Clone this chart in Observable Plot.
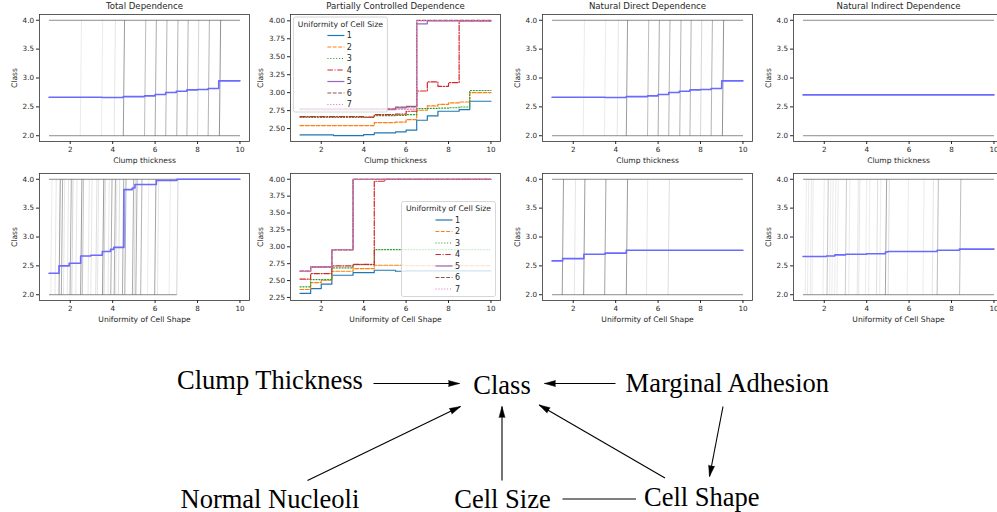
<!DOCTYPE html>
<html><head><meta charset="utf-8">
<script src="https://cdn.jsdelivr.net/npm/d3@7"></script>
<script src="https://cdn.jsdelivr.net/npm/@observablehq/plot@0.6"></script>
<style>
body{margin:0;background:#fff;}
#fig{position:relative;width:997px;height:512px;overflow:hidden;background:#fff;}
#fig svg{position:absolute;overflow:visible;}
</style></head><body><div id="fig"></div>
<script>
// ================= DATA =================
const panelTitles = ["Total Dependence", "Partially Controlled Dependence", "Natural Direct Dependence", "Natural Indirect Dependence"];
const featureLabels = ["Clump thickness", "Uniformity of Cell Shape"];
const yLabel = "Class";
const legendTitle = "Uniformity of Cell Size";
const sizeLevels = ["1", "2", "3", "4", "5", "6", "7"];
const xTicks = [2, 4, 6, 8, 10];
const classTicks = [2.0, 2.5, 3.0, 3.5, 4.0];
const pcdTicksTop = [2.50, 2.75, 3.00, 3.25, 3.50, 3.75, 4.00];
const pcdTicksBottom = [2.25, 2.50, 2.75, 3.00, 3.25, 3.50, 3.75, 4.00];
const iceLevels = [2, 4];

// average (blue) step curves, Clump thickness
const clumpSteps = [1, 3.5, 4.5, 5.5, 6.0, 6.5, 7.0, 7.5, 8.0, 8.5, 9.0, 10];
const totalClump = [2.667, 2.661, 2.678, 2.690, 2.713, 2.748, 2.771, 2.794, 2.800, 2.817, 2.951, 2.951];
const directClump = [2.667, 2.661, 2.678, 2.690, 2.713, 2.748, 2.771, 2.794, 2.800, 2.817, 2.951, 2.951];
const indirectClumpSteps = [1, 10];
const indirectClump = [2.707, 2.707];

// average (blue) step curves, Uniformity of Cell Shape
const shapeStepsTotal = [1, 1.47, 1.95, 2.49, 2.97, 3.51, 3.9, 4.05, 4.53, 4.92, 5.05, 6.06, 7.03, 10];
const totalShape = [2.371, 2.500, 2.545, 2.670, 2.683, 2.750, 2.785, 2.820, 3.820, 3.850, 3.910, 3.980, 4.000, 4.000];
const shapeStepsDirect = [1, 1.5, 2.5, 3.5, 4.5, 10];
const directShape = [2.586, 2.626, 2.700, 2.720, 2.770, 2.770];
const shapeStepsIndirect = [1, 2.1, 2.5, 3.0, 4.0, 4.88, 5.0, 7.32, 8.37, 10];
const indirectShape = [2.661, 2.670, 2.690, 2.700, 2.710, 2.740, 2.750, 2.770, 2.790, 2.790];

// individual ICE curve jump positions and their darkness
const iceClumpX = [2.47, 3.47, 4.07, 4.50, 5.50, 6.00, 6.50, 7.02, 7.50, 8.00, 8.50, 9.03];
const iceClumpAlpha = [0.12, 0.12, 0.15, 0.6, 0.4, 0.5, 0.45, 0.45, 0.45, 0.25, 0.45, 0.65];
const iceShapeTotalX = [1.08, 1.28, 1.47, 1.58, 1.68, 1.86, 1.99, 2.07, 2.26, 2.49, 2.57, 2.84, 2.97, 3.20, 3.28, 3.52, 3.59, 3.78, 3.91, 4.07, 4.14, 4.27, 4.46, 4.57, 4.93, 5.01, 5.09, 5.32, 5.64, 5.98, 6.11, 6.66, 7.02];
const iceShapeTotalAlpha = [0.12, 0.15, 0.6, 0.5, 0.15, 0.15, 0.5, 0.25, 0.15, 0.6, 0.35, 0.15, 0.15, 0.2, 0.15, 0.6, 0.25, 0.15, 0.5, 0.5, 0.15, 0.2, 0.5, 0.5, 0.5, 0.2, 0.5, 0.45, 0.12, 0.55, 0.15, 0.12, 0.25];
const iceShapeDirectX = [1.48, 2.05, 2.49, 3.48, 4.50, 5.45, 6.47];
const iceShapeDirectAlpha = [0.6, 0.15, 0.6, 0.55, 0.6, 0.15, 0.2];
const iceShapeIndirectX = [1.10, 1.21, 1.34, 1.42, 1.94, 2.13, 2.25, 2.36, 2.49, 2.60, 2.99, 3.15, 3.55, 3.62, 3.94, 4.09, 4.46, 4.61, 4.88, 5.01, 5.91, 6.65, 7.09, 7.32, 8.38];
const iceShapeIndirectAlpha = [0.12, 0.12, 0.12, 0.12, 0.12, 0.35, 0.12, 0.12, 0.12, 0.12, 0.3, 0.12, 0.15, 0.15, 0.12, 0.12, 0.2, 0.12, 0.55, 0.2, 0.12, 0.12, 0.15, 0.4, 0.4];

// partially controlled dependence, by Uniformity of Cell Size (levels 1..7)
const pcdClumpSteps = [1, 2.58, 4.0, 4.5, 5.5, 6.0, 6.5, 7.0, 7.5, 8.0, 8.5, 9.0, 10];
const pcdClump1 = [2.412, 2.403, 2.417, 2.440, 2.454, 2.477, 2.616, 2.676, 2.741, 2.741, 2.764, 2.880, 2.880];
const pcdClump2 = [2.542, 2.542, 2.542, 2.583, 2.590, 2.625, 2.755, 2.815, 2.838, 2.857, 2.870, 3.000, 3.000];
const pcdClump3 = [2.657, 2.657, 2.657, 2.680, 2.683, 2.694, 2.778, 2.782, 2.785, 2.790, 2.800, 3.030, 3.030];
const pcdClump4 = [2.667, 2.667, 2.660, 2.694, 2.700, 2.741, 3.023, 3.150, 3.088, 3.140, 4.000, 4.000, 4.000];
const pcdClump5 = [2.764, 2.764, 2.764, 2.764, 2.787, 2.810, 3.958, 4.000, 4.000, 4.000, 4.000, 4.000, 4.000];
const pcdClump6 = [2.773, 2.773, 2.773, 2.773, 2.800, 2.800, 4.005, 4.005, 4.005, 4.005, 4.005, 4.005, 4.005];
const pcdClump7 = [2.770, 2.770, 2.770, 2.770, 2.770, 2.770, 4.000, 4.000, 4.000, 4.000, 4.000, 4.000, 4.000];

const pcdShapeSteps = [1, 1.5, 2.0, 2.5, 3.5, 4.5, 5.0, 5.5, 6.0, 10];
const pcdShape1 = [2.309, 2.382, 2.446, 2.579, 2.618, 2.653, 2.653, 2.638, 2.643, 2.643];
const pcdShape2 = [2.368, 2.471, 2.505, 2.638, 2.677, 2.727, 2.727, 2.727, 2.722, 2.722];
const pcdShape3 = [2.407, 2.515, 2.515, 2.687, 2.736, 2.958, 2.958, 2.958, 2.958, 2.958];
const pcdShape4 = [2.520, 2.604, 2.604, 2.717, 2.741, 3.970, 4.000, 4.000, 4.000, 4.000];
const pcdShape5 = [2.638, 2.702, 2.702, 2.958, 4.000, 4.000, 4.000, 4.000, 4.000, 4.000];
const pcdShape6 = [2.640, 2.700, 2.700, 2.955, 4.000, 4.000, 4.000, 4.000, 4.000, 4.000];
const pcdShape7 = [2.636, 2.698, 2.698, 2.960, 4.000, 4.000, 4.000, 4.000, 4.000, 4.000];

// causal diagram
const nodeNames = ["Clump Thickness", "Class", "Marginal Adhesion", "Normal Nucleoli", "Cell Size", "Cell Shape"];
const nodeX = [269.4, 501.5, 726.8, 269.4, 502, 701.3];
const nodeY = [388, 393, 391, 507, 507, 505];
const edgeX1 = [373, 615, 307, 501.5, 664.5, 722.5, 562];
const edgeY1 = [383, 383, 480, 480, 477.5, 406, 498.5];
const edgeX2 = [459, 544, 460, 501.5, 538.6, 709, 635.5];
const edgeY2 = [383, 383, 406, 406, 404.4, 476, 498.5];
const edgeDirected = [true, true, true, true, true, true, false];

// ================= STYLE =================
const tab10 = ["#1f77b4", "#ff7f0e", "#2ca02c", "#d62728", "#9467bd", "#8c564b", "#e377c2"];
const dashes = [null, "3.8,1.6", "1.1,1.8", "5.5,1.6,1.1,1.6", null, "3.8,1.6", "1.1,1.8"];
const FONT = "DejaVu Sans";

const fig = document.getElementById("fig");
const colLeft = [0, 251.4, 502.8, 754.2];
const rowTop = [0, 159.3];

function panel({title, xlabel, yDomain, yTicks, yFmt, ylabelDx, marks}) {
  return Plot.plot({
    width: 252, height: 165,
    marginLeft: 39, marginRight: 3, marginTop: 14, marginBottom: 24,
    x: {domain: [0.55, 10.45]},
    y: {domain: yDomain},
    style: {fontFamily: FONT, fontSize: "7.2px", color: "#262626", background: "transparent", overflow: "visible"},
    marks: [
      ...marks,
      Plot.frame({stroke: "#333", strokeWidth: 0.8}),
      Plot.axisX({ticks: xTicks, tickFormat: d3.format("d"), tickSize: 3, tickPadding: 2.5, label: null}),
      Plot.axisY({ticks: yTicks, tickFormat: d3.format(yFmt), tickSize: 3, tickPadding: 2.5, label: null}),
      title ? Plot.text([title], {frameAnchor: "top", dy: -8, text: d => d, fontSize: 8.6, lineAnchor: "middle"}) : null,
      Plot.text([xlabel], {frameAnchor: "bottom", dy: 19, text: d => d, fontSize: 7.6, lineAnchor: "middle"}),
      Plot.text([yLabel], {frameAnchor: "left", dx: ylabelDx, rotate: -90, text: d => d, fontSize: 7.6, lineAnchor: "middle", textAnchor: "middle"})
    ]
  });
}

function iceMarks(stepsX, avgY, jumpX, jumpA, lowEnd) {
  const avg = stepsX.map((x, i) => ({x, y: avgY[i]}));
  const jumps = jumpX.map((x, i) => ({x, a: jumpA[i], lo: iceLevels[0], hi: iceLevels[1]}));
  const levels = iceLevels.map((y, i) => ({y, x1: 1, x2: i === 0 ? lowEnd : 10}));
  return [
    Plot.link(levels, {x1: "x1", x2: "x2", y1: "y", y2: "y", stroke: "#8c8c8c", strokeWidth: 1}),
    Plot.link(jumps, {x1: "x", x2: d => d.x + 0.06, y1: "lo", y2: "hi", stroke: "#444", strokeOpacity: "a", strokeWidth: 0.9}),
    Plot.line(avg, {x: "x", y: "y", curve: "step-after", stroke: "#6a6aff", strokeWidth: 1.6})
  ];
}

function pcdMarks(stepsX, series) {
  return series.map((vals, i) => Plot.line(stepsX.map((x, j) => ({x, y: vals[j]})), {
    x: "x", y: "y", curve: "step-after", stroke: tab10[i], strokeWidth: 1.2, strokeDasharray: dashes[i]
  }));
}

function addLegend(svg, bx, by) {
  const g = d3.select(svg).append("g").attr("font-family", FONT).attr("font-size", 7.7).attr("fill", "#262626");
  g.append("rect").attr("x", bx).attr("y", by).attr("width", 94).attr("height", 95).attr("rx", 2)
    .attr("fill", "white").attr("fill-opacity", 0.8).attr("stroke", "#cccccc").attr("stroke-width", 0.8);
  g.append("text").attr("x", bx + 47).attr("y", by + 7).attr("text-anchor", "middle").attr("dy", "0.35em").text(legendTitle);
  sizeLevels.forEach((lv, i) => {
    const y = by + 18.5 + i * 11.5;
    g.append("line").attr("x1", bx + 34).attr("x2", bx + 51).attr("y1", y).attr("y2", y)
      .attr("stroke", tab10[i]).attr("stroke-width", 1.2).attr("stroke-dasharray", dashes[i]);
    g.append("text").attr("x", bx + 56).attr("y", y).attr("dy", "0.35em").attr("font-size", 8).text(lv);
  });
}

function place(svg, c, r) {
  svg.style.left = colLeft[c] + "px";
  svg.style.top = rowTop[r] + "px";
  fig.appendChild(svg);
}

// ---- Top row: Clump thickness ----
place(panel({title: panelTitles[0], xlabel: featureLabels[0], yDomain: [1.9, 4.1], yTicks: classTicks, yFmt: ".1f", ylabelDx: -25,
  marks: iceMarks(clumpSteps, totalClump, iceClumpX, iceClumpAlpha, 10)}), 0, 0);

const p2 = panel({title: panelTitles[1], xlabel: featureLabels[0], yDomain: [2.32, 4.088], yTicks: pcdTicksTop, yFmt: ".2f", ylabelDx: -30,
  marks: pcdMarks(pcdClumpSteps, [pcdClump1, pcdClump2, pcdClump3, pcdClump4, pcdClump5, pcdClump6, pcdClump7])});
addLegend(p2, 42.4, 17);
place(p2, 1, 0);

place(panel({title: panelTitles[2], xlabel: featureLabels[0], yDomain: [1.9, 4.1], yTicks: classTicks, yFmt: ".1f", ylabelDx: -25,
  marks: iceMarks(clumpSteps, directClump, iceClumpX, iceClumpAlpha, 10)}), 2, 0);

place(panel({title: panelTitles[3], xlabel: featureLabels[0], yDomain: [1.9, 4.1], yTicks: classTicks, yFmt: ".1f", ylabelDx: -25,
  marks: iceMarks(indirectClumpSteps, indirectClump, [], [], 10)}), 3, 0);

// ---- Bottom row: Uniformity of Cell Shape ----
place(panel({title: null, xlabel: featureLabels[1], yDomain: [1.9, 4.1], yTicks: classTicks, yFmt: ".1f", ylabelDx: -25,
  marks: iceMarks(shapeStepsTotal, totalShape, iceShapeTotalX, iceShapeTotalAlpha, 7.02)}), 0, 1);

const p6 = panel({title: null, xlabel: featureLabels[1], yDomain: [2.205, 4.085], yTicks: pcdTicksBottom, yFmt: ".2f", ylabelDx: -30,
  marks: pcdMarks(pcdShapeSteps, [pcdShape1, pcdShape2, pcdShape3, pcdShape4, pcdShape5, pcdShape6, pcdShape7])});
addLegend(p6, 150.5, 42.5);
place(p6, 1, 1);

place(panel({title: null, xlabel: featureLabels[1], yDomain: [1.9, 4.1], yTicks: classTicks, yFmt: ".1f", ylabelDx: -25,
  marks: iceMarks(shapeStepsDirect, directShape, iceShapeDirectX, iceShapeDirectAlpha, 10)}), 2, 1);

place(panel({title: null, xlabel: featureLabels[1], yDomain: [1.9, 4.1], yTicks: classTicks, yFmt: ".1f", ylabelDx: -25,
  marks: iceMarks(shapeStepsIndirect, indirectShape, iceShapeIndirectX, iceShapeIndirectAlpha, 10)}), 3, 1);

// ---- Causal diagram ----
const nodes = nodeNames.map((name, i) => ({name, x: nodeX[i], y: nodeY[i]}));
const edges = edgeX1.map((x1, i) => ({x1, y1: edgeY1[i], x2: edgeX2[i], y2: edgeY2[i], directed: edgeDirected[i],
  angle: Math.atan2(edgeX2[i] - x1, -(edgeY2[i] - edgeY1[i])) * 180 / Math.PI}));
const diagram = Plot.plot({
  width: 997, height: 182, margin: 0,
  x: {domain: [0, 997], range: [0, 997], axis: null},
  y: {domain: [330, 512], range: [0, 182], axis: null},
  style: {background: "transparent", overflow: "visible"},
  marks: [
    Plot.link(edges, {x1: "x1", y1: "y1", x2: "x2", y2: "y2", stroke: "black", strokeWidth: 1.1}),
    Plot.vector(edges.filter(d => d.directed), {x: "x2", y: "y2", rotate: "angle", length: 11, r: 3, shape: "spike", anchor: "end", fill: "black", stroke: "black", strokeWidth: 0.5}),
    Plot.text(nodes, {x: "x", y: "y", text: "name", fontFamily: "Liberation Serif", fontSize: 26.5, lineAnchor: "bottom", fill: "black"})
  ]
});
diagram.style.left = "0px";
diagram.style.top = "330px";
fig.appendChild(diagram);
</script></body></html>
